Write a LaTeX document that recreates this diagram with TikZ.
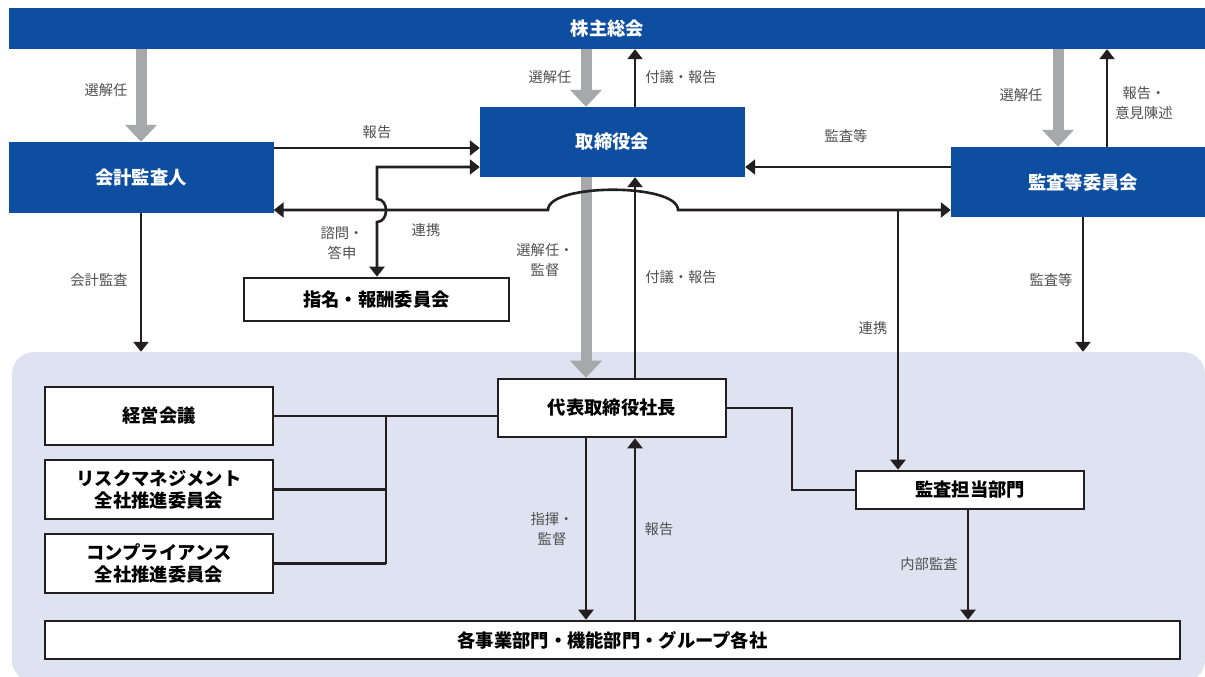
\documentclass[tikz,border=0pt]{standalone}
\usepackage{fontspec}
\setmainfont{Noto Sans CJK JP}
\usetikzlibrary{arrows.meta}
\definecolor{cblue}{HTML}{0E4EA0}
\definecolor{cgray}{HTML}{A7A8AA}
\definecolor{cbg}{HTML}{DFE3F1}
\definecolor{cline}{HTML}{231F20}
\definecolor{clabel}{HTML}{505050}
\tikzset{
  boxfont/.style={font=\fontsize{18.3}{22}\selectfont\bfseries},
  bluebox/.style={boxfont, fill=cblue, text=white, inner sep=0pt, align=center},
  whitebox/.style={boxfont, fill=white, draw=cline, line width=2.6pt, text=black, inner sep=0pt, align=center},
  bgbox/.style={fill=cbg, rounded corners=22pt, inner sep=0pt},
  lbl/.style={text=clabel, font=\fontsize{14.3}{20.5}\selectfont, align=center, inner sep=0pt},
  conn/.style={draw=cline, line width=2.6pt},
  arr/.style={conn, -{Triangle[length=10pt 0 0,width=15pt 0 0]}},
  barr/.style={conn, {Triangle[length=10pt 0 0,width=15pt 0 0]}-{Triangle[length=10pt 0 0,width=15pt 0 0]}},
  garr/.style={draw=cgray, line width=11pt, -{Triangle[length=17pt 0 0,width=31pt 0 0]}},
}
\begin{document}
\begin{tikzpicture}[x=1pt,y=-1pt]
\useasboundingbox (0,0) rectangle (1205,677);
% background panel
\node[bgbox, minimum width=1193pt, minimum height=330pt] (bg) at (608.5,517) {};
% boxes
\node[bluebox, minimum width=1197pt, minimum height=41pt] (kabu) at (607.5,28.5) {株主総会};
\node[bluebox, minimum width=265pt, minimum height=71pt] (kaikei) at (141,177.5) {会計監査人};
\node[bluebox, minimum width=265pt, minimum height=70pt] (tori) at (612.5,142) {取締役会};
\node[bluebox, minimum width=264pt, minimum height=70pt] (kansa) at (1083,182) {監査等委員会};
\node[whitebox, minimum width=265pt, minimum height=43pt] (shimei) at (376.5,299.5) {指名・報酬委員会};
\node[whitebox, minimum width=228pt, minimum height=58pt] (keiei) at (159,416) {経営会議};
\node[whitebox, minimum width=228pt, minimum height=59pt] (risk) at (159,489.5) {リスクマネジメント\\全社推進委員会};
\node[whitebox, minimum width=228pt, minimum height=59pt] (comp) at (159,563.5) {コンプライアンス\\全社推進委員会};
\node[whitebox, minimum width=228pt, minimum height=58pt] (daihyo) at (612,408) {代表取締役社長};
\node[whitebox, minimum width=228pt, minimum height=38pt] (kansabu) at (970,490) {監査担当部門};
\node[whitebox, minimum width=1135pt, minimum height=38pt] (kaku) at (612.5,640) {各事業部門・機能部門・グループ各社};
% guide coordinates
\coordinate (xg1) at (586,0);
\coordinate (xb1) at (635,0);
\coordinate (xg3) at (1058,0);
\coordinate (xb3) at (1107,0);
\coordinate (y148) at (0,148);
\coordinate (y167) at (0,167);
\coordinate (y210) at (0,210);
\coordinate (xs) at (377,0);
\coordinate (hopA) at (377,199);
\coordinate (hopB) at (377,222);
\coordinate (arcA) at (548,210);
\coordinate (arcB) at (678,210);
\coordinate (j) at (898,210);
\coordinate (xbus) at (386,0);
\coordinate (xr) at (792,0);
\coordinate (xi) at (968,0);
% gray arrows
\draw[garr] (kabu.south -| kaikei.north) -- (kaikei.north);
\draw[garr] (kabu.south -| xg1) -- (tori.north -| xg1);
\draw[garr] (kabu.south -| xg3) -- (kansa.north -| xg3);
\draw[garr] (tori.south -| xg1) -- (daihyo.north -| xg1);
% black connectors
\draw[arr] (tori.north -| xb1) -- (kabu.south -| xb1);
\draw[arr] (daihyo.north -| xb1) -- (tori.south -| xb1);
\draw[arr] (kaikei.east |- y148) -- (tori.west |- y148);
\draw[arr] (kansa.west |- y167) -- (tori.east |- y167);
\draw[arr] (kansa.north -| xb3) -- (kabu.south -| xb3);
\draw[barr] (kaikei.east |- y210) -- (arcA) .. controls (548,183) and (678,183) .. (arcB) -- (kansa.west |- y210);
\draw[barr] (tori.west |- y167) -- (xs |- y167) -- (hopA) .. controls (389,199) and (389,222) .. (hopB) -- (shimei.north -| xs);
\draw[arr] (j) -- (kansabu.north -| j);
\draw[arr] (kaikei.south) -- (kaikei.south |- bg.north);
\draw[arr] (kansa.south) -- (kansa.south |- bg.north);
\draw[conn] (daihyo.west |- keiei.east) -- (keiei.east);
\draw[conn] (xbus |- keiei.east) -- (xbus |- comp.east);
\draw[conn] (risk.east) -- (risk.east -| xbus);
\draw[conn] (comp.east) -- (comp.east -| xbus);
\draw[conn] (daihyo.east) -- (daihyo.east -| xr) -- (kansabu.west -| xr) -- (kansabu.west);
\draw[arr] (daihyo.south -| xg1) -- (kaku.north -| xg1);
\draw[arr] (kaku.north -| xb1) -- (daihyo.south -| xb1);
\draw[arr] (kansabu.south -| xi) -- (kaku.north -| xi);
% labels
\node[lbl] (l1) at (106,90) {選解任};
\node[lbl] (l2) at (550,77) {選解任};
\node[lbl] (l3) at (681,77) {付議・報告};
\node[lbl] (l4) at (377,132) {報告};
\node[lbl] (l5) at (846,136) {監査等};
\node[lbl] (l6) at (1021,95) {選解任};
\node[lbl] (l7) at (1144,103) {報告・\\意見陳述};
\node[lbl] (l8) at (342,243) {諮問・\\答申};
\node[lbl] (l9) at (426,230) {連携};
\node[lbl] (l10) at (545,260) {選解任・\\監督};
\node[lbl] (l11) at (681,277) {付議・報告};
\node[lbl] (l12) at (1051,280) {監査等};
\node[lbl] (l13) at (873,328) {連携};
\node[lbl] (l14) at (99,280) {会計監査};
\node[lbl] (l15) at (552,529) {指揮・\\監督};
\node[lbl] (l16) at (659,529) {報告};
\node[lbl] (l17) at (929,564) {内部監査};
\end{tikzpicture}
\end{document}
